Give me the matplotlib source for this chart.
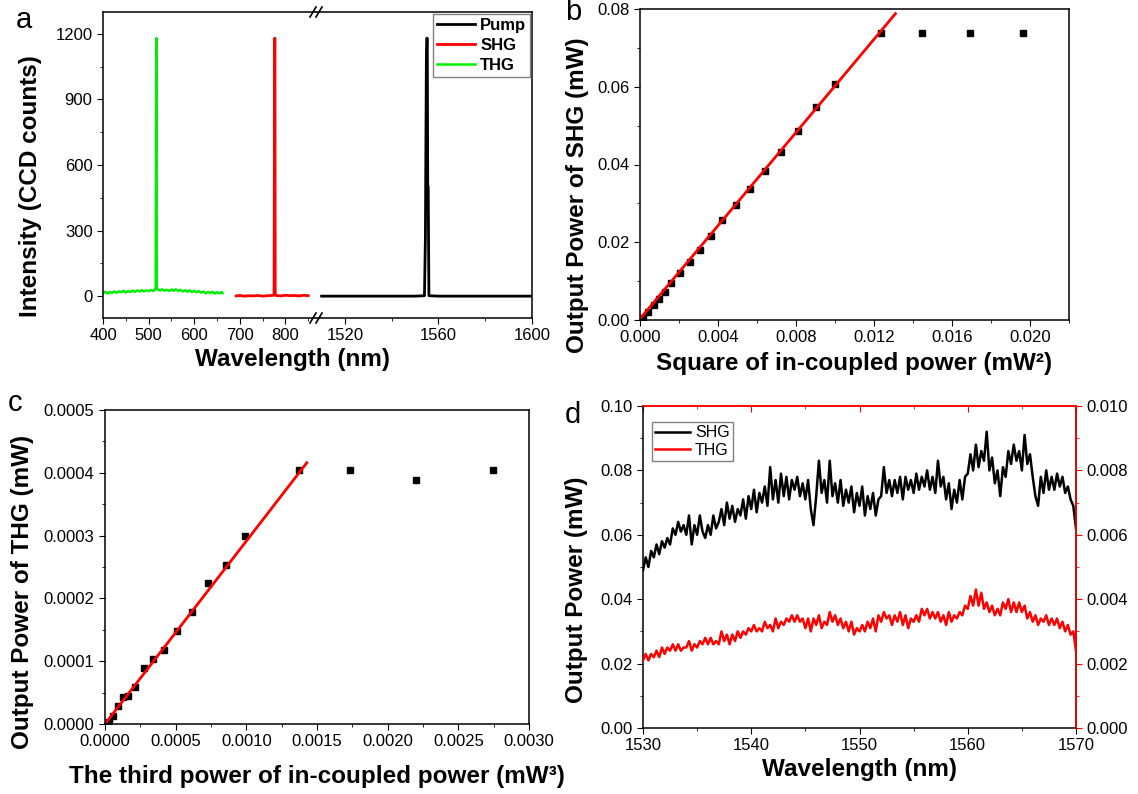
import numpy as np
import matplotlib
matplotlib.use("Agg")
import matplotlib.pyplot as plt
from matplotlib.ticker import MultipleLocator, FormatStrFormatter
from matplotlib.lines import Line2D

plt.rcParams['font.family'] = ['Liberation Sans', 'DejaVu Sans']
plt.rcParams['axes.linewidth'] = 1.1
plt.rcParams['xtick.direction'] = 'out'
plt.rcParams['ytick.direction'] = 'out'
plt.rcParams['xtick.major.size'] = 4
plt.rcParams['ytick.major.size'] = 4
plt.rcParams['xtick.minor.size'] = 2.5
plt.rcParams['ytick.minor.size'] = 2.5
plt.rcParams['xtick.labelsize'] = 12
plt.rcParams['ytick.labelsize'] = 12

# ---- panel a: spectra (broken wavelength axis)
thg_wl = [400, 405, 410, 415, 420, 425, 430, 435, 440, 445, 450, 455, 460, 465, 470,
          475, 480, 485, 490, 495, 500, 505, 510, 514, 515.5, 516.2, 516.8, 517.4, 518,
          520, 525, 530, 535, 540, 545, 550, 555, 560, 565, 570, 575, 580, 585, 590,
          595, 600, 605, 610, 615, 620, 625, 630, 635, 640, 645, 650, 655, 660, 662]
thg_cnt = [14, 20, 12, 18, 15, 21, 16, 22, 18, 24, 17, 23, 19, 25, 20,
           26, 21, 27, 22, 26, 23, 28, 24, 30, 35, 600, 1180, 1180, 40,
           30, 26, 31, 25, 29, 24, 30, 25, 31, 24, 28, 22, 27, 21, 26,
           19, 24, 18, 23, 16, 21, 13, 19, 14, 20, 12, 18, 13, 19, 14]

shg_wl = [692, 700, 710, 720, 730, 740, 750, 760, 770, 775, 775.8, 776.4, 777.0,
          777.6, 780, 790, 800, 810, 820, 830, 840, 850]
shg_cnt = [1, 3, 0, 2, 1, 3, 0, 2, 3, 4, 600, 1180, 1180, 6, 3, 1, 4, 2, 3, 1, 4, 2]

pump_wl = [1510, 1520, 1530, 1540, 1550, 1554.0, 1554.4, 1554.8, 1555.0, 1555.2,
           1555.4, 1555.6, 1555.9, 1560, 1570, 1580, 1590, 1600]
pump_cnt = [0, 0, 0, 0, 0, 2, 270, 1070, 1180, 1180, 500, 500, 2, 0, 0, 0, 0, 0]

# ---- panel b: SHG power vs square of in-coupled power
b_x = [0.00013, 0.00042, 0.0007, 0.00095, 0.00127, 0.00161, 0.00205, 0.00254, 0.00307,
       0.00364, 0.00421, 0.00493, 0.00563, 0.00641, 0.00724, 0.00809, 0.00904, 0.01001,
       0.01236, 0.01445, 0.01691, 0.01962]
b_y = [0.0004, 0.00215, 0.0039, 0.0054, 0.0073, 0.0094, 0.0120, 0.0148, 0.0180,
       0.0215, 0.0256, 0.0296, 0.0337, 0.0384, 0.0432, 0.0485, 0.0548, 0.0607,
       0.0739, 0.0739, 0.0739, 0.0739]
b_fit_x = [0.0, 0.0131]
b_fit_y = [0.0003, 0.0788]

# ---- panel c: THG power vs third power of in-coupled power
c_x = [0.0000253, 0.0000581, 0.0000885, 0.000126, 0.000164, 0.00021, 0.000273, 0.000341,
       0.000417, 0.000511, 0.000614, 0.000728, 0.000854, 0.000993, 0.001373, 0.001732,
       0.002199, 0.002748]
c_y = [0.0000026, 0.0000132, 0.0000281, 0.0000429, 0.000044, 0.0000588, 0.0000885,
       0.0001033, 0.0001181, 0.0001488, 0.000179, 0.000224, 0.000253, 0.000299,
       0.000404, 0.000404, 0.000389, 0.000404]
c_fit_x = [0.0, 0.001428]
c_fit_y = [0.0, 0.000416]

# ---- panel d: output power vs wavelength (0.25 nm steps, 1530-1570 nm)
d_wl = np.arange(1530, 1570.001, 0.25)
d_shg = [0.049, 0.053, 0.050, 0.055, 0.053, 0.057, 0.054, 0.058,
         0.056, 0.059, 0.057, 0.062, 0.060, 0.064, 0.061, 0.063,
         0.060, 0.066, 0.057, 0.063, 0.060, 0.066, 0.061, 0.059,
         0.063, 0.060, 0.066, 0.062, 0.064, 0.068, 0.063, 0.070,
         0.065, 0.069, 0.064, 0.068, 0.066, 0.071, 0.065, 0.072,
         0.068, 0.074, 0.067, 0.073, 0.070, 0.075, 0.069, 0.081,
         0.071, 0.077, 0.070, 0.079, 0.072, 0.078, 0.071, 0.077,
         0.074, 0.078, 0.072, 0.076, 0.071, 0.077, 0.068, 0.063,
         0.072, 0.083, 0.073, 0.077, 0.070, 0.083, 0.072, 0.076,
         0.070, 0.077, 0.069, 0.074, 0.070, 0.075, 0.067, 0.073,
         0.069, 0.075, 0.066, 0.072, 0.068, 0.073, 0.066, 0.071,
         0.072, 0.081, 0.073, 0.077, 0.072, 0.077, 0.073, 0.078,
         0.071, 0.078, 0.074, 0.077, 0.073, 0.079, 0.074, 0.078,
         0.075, 0.080, 0.074, 0.078, 0.073, 0.083, 0.075, 0.078,
         0.071, 0.076, 0.068, 0.074, 0.070, 0.077, 0.071, 0.078,
         0.079, 0.085, 0.080, 0.088, 0.081, 0.086, 0.083, 0.092,
         0.080, 0.084, 0.076, 0.080, 0.072, 0.081, 0.078, 0.086,
         0.082, 0.088, 0.083, 0.086, 0.080, 0.091, 0.082, 0.085,
         0.078, 0.072, 0.069, 0.078, 0.073, 0.080, 0.074, 0.078,
         0.074, 0.079, 0.075, 0.078, 0.073, 0.075, 0.071, 0.069,
         0.062]
d_thg = [0.0021, 0.0023, 0.0021, 0.0023, 0.0022, 0.0024, 0.0022, 0.0025,
         0.0023, 0.0025, 0.0024, 0.0026, 0.0024, 0.0026, 0.0024, 0.0025,
         0.0025, 0.0027, 0.0024, 0.0026, 0.0025, 0.0027, 0.0026, 0.0028,
         0.0026, 0.0028, 0.0026, 0.0027, 0.0026, 0.0030, 0.0027, 0.0029,
         0.0026, 0.0029, 0.0027, 0.0030, 0.0028, 0.0030, 0.0029, 0.0031,
         0.0030, 0.0032, 0.0030, 0.0031, 0.0030, 0.0033, 0.0031, 0.0032,
         0.0030, 0.0034, 0.0031, 0.0033, 0.0032, 0.0034, 0.0033, 0.0035,
         0.0033, 0.0035, 0.0033, 0.0034, 0.0031, 0.0034, 0.0030, 0.0034,
         0.0032, 0.0035, 0.0031, 0.0033, 0.0032, 0.0036, 0.0033, 0.0035,
         0.0032, 0.0034, 0.0031, 0.0033, 0.0030, 0.0033, 0.0029, 0.0031,
         0.0030, 0.0032, 0.0030, 0.0033, 0.0031, 0.0034, 0.0030, 0.0035,
         0.0033, 0.0036, 0.0034, 0.0035, 0.0032, 0.0035, 0.0033, 0.0036,
         0.0032, 0.0035, 0.0031, 0.0034, 0.0033, 0.0035, 0.0033, 0.0037,
         0.0035, 0.0037, 0.0034, 0.0036, 0.0034, 0.0036, 0.0033, 0.0035,
         0.0032, 0.0036, 0.0033, 0.0035, 0.0034, 0.0036, 0.0035, 0.0038,
         0.0037, 0.0041, 0.0038, 0.0043, 0.0038, 0.0042, 0.0037, 0.0039,
         0.0036, 0.0038, 0.0035, 0.0037, 0.0035, 0.0039, 0.0037, 0.0040,
         0.0036, 0.0039, 0.0036, 0.0039, 0.0036, 0.0038, 0.0034, 0.0036,
         0.0033, 0.0035, 0.0032, 0.0034, 0.0033, 0.0035, 0.0032, 0.0034,
         0.0032, 0.0034, 0.0031, 0.0033, 0.0030, 0.0032, 0.0029, 0.0030,
         0.0024]

W, H = 1138, 794
def box(l, t, r, b):
    return [l / W, 1 - b / H, (r - l) / W, (b - t) / H]

fig = plt.figure(figsize=(W / 100, H / 100), dpi=100)
lab = dict(fontsize=17.5, fontweight='bold')

# ===== a
xa_break = 316
axa1 = fig.add_axes(box(103, 12, xa_break, 318))
axa2 = fig.add_axes(box(xa_break, 12, 532, 318))
axa1.plot(thg_wl, thg_cnt, color='#00ee00', lw=1.8, label='THG')
axa1.plot(shg_wl, shg_cnt, color='red', lw=2, label='SHG')
axa2.plot(pump_wl, pump_cnt, color='black', lw=2, label='Pump')
for ax in (axa1, axa2):
    ax.set_ylim(-100, 1300)
    ax.yaxis.set_major_locator(MultipleLocator(300))
    ax.yaxis.set_minor_locator(MultipleLocator(150))
axa1.set_xlim(400, 867)
axa1.xaxis.set_major_locator(MultipleLocator(100))
axa1.xaxis.set_minor_locator(MultipleLocator(50))
axa1.spines['right'].set_visible(False)
axa2.set_xlim(1507.6, 1600)
axa2.set_xticks([1520, 1560, 1600])
axa2.set_xticks([1540, 1580], minor=True)
axa2.spines['left'].set_visible(False)
axa2.tick_params(axis='y', which='both', left=False, labelleft=False)
axa1.set_ylabel('Intensity (CCD counts)', labelpad=10, **lab)
axa1.yaxis.label.set_y(0.43)
fig.text(293 / W, 1 - 359 / H, 'Wavelength (nm)', ha='center', va='center', **lab)
h1, l1 = axa1.get_legend_handles_labels()
h2, l2 = axa2.get_legend_handles_labels()
leg = axa2.legend(h2 + h1[::-1], l2 + l1[::-1], loc='upper right', borderaxespad=0.1,
                  fancybox=False, edgecolor='gray', framealpha=1, prop=dict(weight='bold', size=12),
                  handlelength=2.3, handletextpad=0.3, labelspacing=0.3, borderpad=0.25)
leg.get_frame().set_linewidth(1.0)
for yb in (12, 318):
    for dx in (-6, 0):
        fig.add_artist(Line2D([(xa_break + dx) / W, (xa_break + dx + 6) / W],
                              [1 - (yb + 5) / H, 1 - (yb - 5) / H], color='black', lw=1.2))

# ===== b
axb = fig.add_axes(box(640, 9, 1069, 320))
axb.plot(b_x, b_y, 's', color='black', ms=5)
axb.plot(b_fit_x, b_fit_y, color='red', lw=2)
axb.set_xlim(0, 0.022)
axb.set_ylim(0, 0.08)
axb.xaxis.set_major_locator(MultipleLocator(0.004))
axb.xaxis.set_minor_locator(MultipleLocator(0.002))
axb.yaxis.set_major_locator(MultipleLocator(0.02))
axb.yaxis.set_minor_locator(MultipleLocator(0.01))
axb.xaxis.set_major_formatter(FormatStrFormatter('%.3f'))
axb.yaxis.set_major_formatter(FormatStrFormatter('%.2f'))
axb.set_xlabel('Square of in-coupled power (mW²)', labelpad=5, **lab)
axb.set_ylabel('Output Power of SHG (mW)', labelpad=6, **lab)
axb.yaxis.label.set_y(0.40)

# ===== c
axc = fig.add_axes(box(105, 410, 529, 724))
axc.plot(c_x, c_y, 's', color='black', ms=5)
axc.plot(c_fit_x, c_fit_y, color='red', lw=2)
axc.set_xlim(0, 0.003)
axc.set_ylim(0, 0.0005)
axc.xaxis.set_major_locator(MultipleLocator(0.0005))
axc.xaxis.set_minor_locator(MultipleLocator(0.00025))
axc.yaxis.set_major_locator(MultipleLocator(0.0001))
axc.yaxis.set_minor_locator(MultipleLocator(0.00005))
axc.xaxis.set_major_formatter(FormatStrFormatter('%.4f'))
axc.yaxis.set_major_formatter(FormatStrFormatter('%.4f'))
axc.set_xlabel('The third power of in-coupled power (mW³)', labelpad=11, **lab)
axc.set_ylabel('Output Power of THG (mW)', labelpad=7, **lab)
axc.yaxis.label.set_y(0.42)

# ===== d
axd = fig.add_axes(box(643, 406, 1076, 728))
axd2 = axd.twinx()
ln1, = axd.plot(d_wl, d_shg, color='black', lw=1.8, label='SHG')
ln2, = axd2.plot(d_wl, d_thg, color='red', lw=1.8, label='THG')
axd.set_xlim(1530, 1570)
axd.set_ylim(0, 0.10)
axd2.set_ylim(0, 0.010)
axd.xaxis.set_major_locator(MultipleLocator(10))
axd.xaxis.set_minor_locator(MultipleLocator(5))
axd.yaxis.set_major_locator(MultipleLocator(0.02))
axd.yaxis.set_minor_locator(MultipleLocator(0.01))
axd2.yaxis.set_major_locator(MultipleLocator(0.002))
axd2.yaxis.set_minor_locator(MultipleLocator(0.001))
axd.yaxis.set_major_formatter(FormatStrFormatter('%.2f'))
axd2.yaxis.set_major_formatter(FormatStrFormatter('%.3f'))
axd.spines['top'].set_visible(False)
axd2.spines['right'].set_color('red')
axd2.spines['top'].set_color('red')
axd2.spines['left'].set_visible(False)
axd2.spines['bottom'].set_visible(False)
axd2.tick_params(axis='y', which='both', colors='red', labelcolor='black')
top = axd.secondary_xaxis('top')
top.xaxis.set_major_locator(MultipleLocator(10))
top.xaxis.set_minor_locator(MultipleLocator(5))
top.tick_params(axis='x', which='both', direction='in', colors='red', labeltop=False)
top.spines['top'].set_color('red')
axd.set_xlabel('Wavelength (nm)', labelpad=3, **lab)
axd.set_ylabel('Output Power (mW)', labelpad=9, **lab)
axd.yaxis.label.set_y(0.43)
legd = axd.legend([ln1, ln2], ['SHG', 'THG'], loc='upper left', bbox_to_anchor=(0.02, 0.95),
                  borderaxespad=0, fancybox=False, edgecolor='gray', framealpha=1,
                  prop=dict(size=11.5), handlelength=2.2, handletextpad=0.3,
                  labelspacing=0.15, borderpad=0.2)
legd.get_frame().set_linewidth(1.0)

# panel letters
for s, x, y in (('a', 24, 20), ('b', 573, 12), ('c', 15, 403), ('d', 573, 415)):
    fig.text(x / W, 1 - y / H, s, fontsize=21, ha='center', va='center')

fig.savefig('out.png', dpi=100)
